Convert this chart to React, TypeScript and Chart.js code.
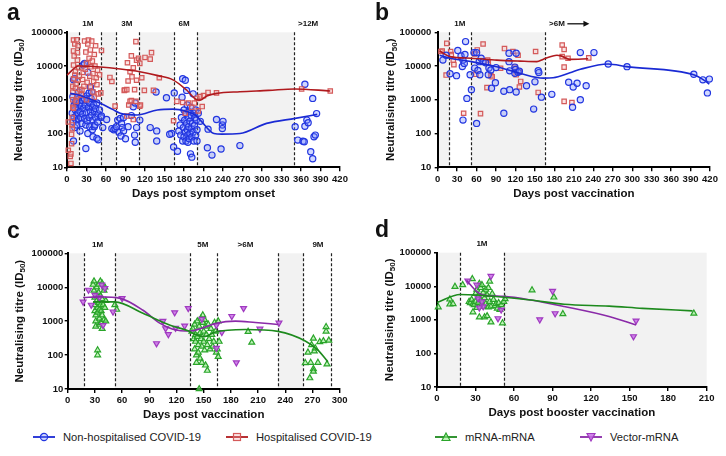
import React, { useEffect, useRef } from "react";
import { Chart, registerables } from "chart.js";
Chart.register(...registerables);

type P = [number, number];
const FONT = "'Liberation Sans', Arial, Helvetica, sans-serif";
Chart.defaults.font.family = FONT;

const yTickValues = [10, 100, 1000, 10000, 100000];

// ---------- Panel a: days post symptom onset ----------
const nhA: P[] = [
  [8,400],[9,1230],[9,225],[10,60],[10,3900],[11,700],[11,300],[12,4300],[12,150],[13,500],[13,900],[14,250],[14,790],[15,350],[15,180],[16,1000],[16,600],[17,400],[18,270],[18,1700],[19,800],[20,450],[20,120],[21,300],[22,1380],[22,650],[23,200],[24,950],[24,380],[25,10700],[27,12000],[26,550],[27,280],[27,1100],[29,36],[28,700],[29,180],[30,420],[30,1300],[31,950],[31,240],[32,100],[32,6500],[33,600],[34,300],[34,1600],[35,800],[35,160],[36,2400],[36,450],[37,1100],[38,350],[38,1740],[39,600],[39,130],[40,80],[40,250],[41,700],[42,160],[42,450],[43,180],[44,300],[44,550],[46,72],[46,800],[47,220],[48,380],[48,65],[50,500],[52,300],[53,330],[55,150],
  [61,260],[69,140],[72,130],[74,140],[76,160],[78,250],[80,110],[82,280],[84,200],[85,150],[87,300],[87,120],[83,85],[90,70],[94,160],[99,340],[102,620],[105,800],[104,90],[107,150],[105,55],[112,250],[128,150],[138,120],[138,60],[137,1700],[153,1150],[161,100],[164,40],[165,1600],[158,95],
  [170,30],[172,120],[174,180],[175,90],[176,300],[177,1200],[178,4200],[178,60],[179,150],[180,500],[180,80],[181,250],[182,3800],[182,110],[183,60],[183,400],[184,1900],[184,200],[185,130],[185,700],[186,90],[186,55],[187,300],[187,160],[188,70],[188,450],[189,230],[189,100],[190,25],[190,600],[191,140],[191,350],[192,80],[192,20],[193,200],[194,1500],[194,110],[195,400],[195,60],[196,170],[197,300],[198,90],[198,500],[199,250],[200,130],[200,60],[202,400],[205,230],
  [216,38],[217,135],[223,23],[230,260],[237,35],[239,180],[239,140],[240,230],[266,44],
  [351,160],[355,64],[363,59],[365,57],[366,165],[366,2900],[369,250],[371,210],[375,29],[378,18],[378,1100],[380,80],[382,90],[384,390],
];
const hA: P[] = [
  [2,220],[2,32],[5,21],[6,13],[6,25],[7,50],[7,95],[8,140],[8,180],[8,300],[9,600],[9,1000],[9,1700],[9,2500],[10,4200],[10,560],[10,10700],[10,28000],[10,59000],[11,20000],[12,5400],[12,45000],[13,2200],[13,7000],[14,900],[14,3000],[15,60000],[15,1300],[16,15000],[16,25000],[17,40000],[17,3800],[18,9000],[19,5000],[20,2000],
  [22,1400],[23,2000],[24,4000],[25,6500],[26,2500],[27,55000],[28,8000],[29,26000],[30,1000],[30,12000],[31,3300],[32,45000],[33,59000],[34,17000],[35,5000],[36,2400],[36,30000],[37,9500],[38,55000],[39,14000],[40,1700],[40,6000],[41,3500],[42,22000],[42,1200],[43,10000],[44,40000],[45,4500],[46,2800],[47,7500],[48,1500],[50,5500],[52,1600],[53,29000],
  [66,4600],[69,3500],[74,650],
  [88,1900],[89,1950],[92,330],[92,2000],[93,12500],[94,3600],[95,700],[97,6800],[97,900],[99,20000],[99,950],[100,4800],[102,8900],[102,260],[104,2000],[106,53000],[106,900],[107,15000],[107,3800],[110,17000],[112,12000],[112,650],[113,700],[115,4500],[119,1900],[120,18000],[128,16000],[130,25000],[133,1900],[142,4500],
  [164,240],[169,900],[178,830],[182,400],[187,800],[192,600],[196,800],[200,1100],[202,470],[205,1240],[208,630],[210,1330],[217,1650],[230,1600],[361,2100],[405,1820],
];
const nhFitA: P[] = [[5,1550],[18,1380],[51,790],[70,520],[82,400],[108,355],[139,500],[163,530],[184,450],[197,355],[205,250],[226,100],[238,96],[266,100],[307,200],[351,282],[385,370]];
const hFitA: P[] = [[0,5400],[18,10000],[51,9400],[82,8200],[112,6800],[140,5200],[163,3900],[184,1950],[200,1000],[205,980],[215,1300],[230,1550],[266,1740],[310,1900],[350,2100],[405,1820]];

// ---------- Panel b: days post vaccination (convalescent) ----------
const nhB: P[] = [
  [8,15000],[13,21000],[19,5900],[29,5200],[31,29000],[36,20000],[39,15000],[38,9700],[41,12000],[42,22000],[43,53000],[39,250],[45,1100],[50,5500],[52,2000],[56,25000],[57,8700],[60,25000],[62,7400],[60,200],[64,13500],[65,5500],[67,17000],[70,13500],[74,12500],[78,5500],[79,8700],[82,7700],[83,2200],[89,3200],[90,9000],[102,400],[102,1800],[110,24000],[110,13500],[111,2000],[111,7200],[119,9300],[120,7900],[119,6100],[121,24000],[121,1700],[124,6500],[126,7000],[137,2600],[150,3400],[148,530],[155,7300],[156,6400],[160,1200],[176,1450],[202,3300],[209,2400],[208,600],[215,3100],[220,1000],[220,25000],[229,2600],[241,25000],[263,11500],[292,9600],[395,5700],[409,3900],[416,1600],[419,4100],
];
const hB: P[] = [
  [5,27000],[7,28000],[14,47000],[13,5400],[20,27000],[21,22000],[24,15000],[25,11000],[40,400],[57,23000],[59,5700],[61,30000],[66,390],[70,45000],[77,15000],[78,12500],[76,2300],[82,5200],[84,4800],[97,8600],[103,33000],[116,27000],[119,9300],[121,5500],[124,21000],[126,6600],[126,2400],[128,3500],[151,27000],[155,1650],[192,42000],[192,19000],[195,31000],[195,9300],[195,900],[201,17000],[207,830],[233,17500],
];
const nhFitB: P[] = [[3,21000],[19,17000],[52,13500],[91,9500],[127,6100],[163,4400],[178,4500],[204,6300],[220,8000],[263,11500],[291,9600],[396,5400],[410,3900],[419,2900]];
const hFitB: P[] = [[3,28000],[19,19000],[52,17000],[91,15000],[127,14000],[153,13500],[163,16000],[184,21000],[190,20000],[204,15800],[232,16500]];

// ---------- Panel c: days post vaccination (naive) ----------
const mmC: P[] = [
  [28,12000],[29,15000],[29,8000],[30,5000],[30,3000],[30,2000],[31,1500],[31,1000],[31,700],[32,10000],[32,6000],[32,4000],[33,2500],[33,1800],[33,140],[33,100],[34,12000],[34,7000],[34,3500],[35,2200],[35,1200],[35,800],[36,15000],[36,5500],[36,3000],[37,2000],[37,900],[38,13000],[38,4500],[38,1500],[38,600],[39,3000],[40,8000],[40,1100],[41,10000],[41,2500],[42,4000],[42,1000],[52,3000],[54,2200],
  [137,500],[138,600],[139,300],[140,800],[140,150],[141,400],[141,250],[142,100],[142,60],[143,1000],[143,350],[144,200],[144,120],[145,10],[145,700],[146,450],[146,80],[147,1200],[147,300],[148,180],[148,60],[149,1500],[149,900],[150,500],[150,250],[151,1100],[151,140],[152,700],[152,50],[153,400],[154,35],[154,200],[155,800],[156,300],[157,150],[158,600],[159,400],[160,180],[161,250],[162,900],[163,500],[164,120],[165,150],[166,90],[166,1000],[167,250],
  [199,490],[203,235],
  [262,59],[265,120],[268,60],[269,200],[271,310],[272,130],[273,160],[271,39],[271,33],[276,60],[267,21],[278,245],[282,260],[285,680],[285,500],[288,270],[286,54],
];
const vmC: P[] = [
  [17,3700],[23,8300],[26,3000],[30,5900],[35,5000],[37.5,11700],[41,9300],[39,760],[50,1900],[60,4700],[98,220],[105,1000],[108,610],[111,410],[118,1800],[119,630],[129,730],[133,2400],[148,1150],[164,760],[164,160],[170,470],[181,1400],[186,60],[194,2400],[212,590],[233,890],
];
const mmFitC: P[] = [[28,3700],[52,3700],[83,1700],[113,760],[135,490],[140,410],[151,350],[162,470],[196,570],[232,500],[262,260],[276,140],[287,63]];
const vmFitC: P[] = [[17,5000],[36,5200],[58,4700],[83,2100],[102,860],[116,580],[135,510],[148,620],[164,870],[185,1000],[207,910],[232,800]];

// ---------- Panel d: days post booster vaccination ----------
const mmD: P[] = [
  [1,2400],[10,4100],[10,2900],[12.5,3000],[14,9700],[20,11000],[27.5,16500],[28,1700],
  [25,3500],[26,3200],[27,4000],[28,3000],[29,2800],[30,6000],[30,3500],[31,8000],[31,2300],[32,3200],[32,5000],[33,12000],[33,1200],[34,4000],[34,9000],[35,11000],[35,3000],[36,2500],[36,6500],[37,1200],[37,4500],[38,8000],[38,3000],[39,1300],[39,5500],[40,2400],[40,9000],[41,14000],[41,3500],[42,850],[42,2500],[43,6000],[44,4000],[45,2600],[46,3000],[47,2200],[48,3200],[49,2000],[50,2800],[51,800],[52,3500],[53,4200],
  [74,7700],[91,4700],[98,1500],[200,1550],
];
const vmD: P[] = [[24,14500],[42,20000],[31,11000],[32,4300],[35,3500],[36,2500],[33,2300],[47.5,1100],[50,2000],[80,1020],[90,7200],[92,1550],[153,320],[155,940]];
const mmFitD: P[] = [[0,3300],[18,5700],[31,5500],[52,4700],[73,3900],[99,2900],[134,2570],[160,2200],[199,1850]];
const vmFitD: P[] = [[23,15000],[31,6900],[36,5500],[52,5000],[73,3900],[99,2500],[134,1260],[155,700]];

// ---------- period annotations ----------
const shadeA: P[] = [[0,18],[52,75],[111,164],[200,349]];
const dashA = [18,52,75,111,164,200,349];
const labelsA: [number, string][] = [[32,"1M"],[92,"3M"],[180,"6M"],[371,">12M"]];
const shadeB: P[] = [[0,18],[52,165]];
const dashB = [18,52,165];
const labelsB: [number, string][] = [[34,"1M"],[184,">6M"]];
const arrowB: P = [200,234];
const shadeC: P[] = [[0,18],[52,135],[232,260]];
const dashC = [18,52,135,165,232,260,290];
const labelsC: [number, string][] = [[33,"1M"],[149,"5M"],[196,">6M"],[276,"9M"]];
const shadeD: P[] = [[0,18],[52,210]];
const dashD = [18,52];
const labelsD: [number, string][] = [[35,"1M"]];

const COL = {
  blue: { edge: "#2236e0", fill: "rgba(120,140,255,0.35)", line: "#1a2ad4" },
  red: { edge: "#d45a5a", fill: "rgba(245,170,170,0.3)", line: "#b01a1e" },
  green: { edge: "#2aa52a", fill: "rgba(150,235,140,0.6)", line: "#1d8a1d" },
  purple: { edge: "#a03ac0", fill: "rgba(200,110,230,0.85)", line: "#8a2aa8" },
};

type Series = { data: P[]; kind: "scatter" | "line"; col: { edge: string; fill: string; line: string }; shape?: string; rotation?: number };

interface PanelCfg {
  letter: string; letterX: number; letterY: number;
  left: number; top: number; width: number; height: number;
  plot: [number, number, number, number];
  yTickPad: number; yTitleX: number; xTitleY: number;
  xMax: number; xStep: number; xTitle: string;
  shade: P[]; dashes: number[]; labels: [number, string][]; arrow?: P;
  series: Series[];
}

const panels: PanelCfg[] = [
  {
    letter: "a", letterX: 7, letterY: 20, left: 0, top: 0, width: 363, height: 215,
    plot: [67, 32.3, 340, 167.3], yTickPad: 1, yTitleX: 18.5, xTitleY: 193.5,
    xMax: 420, xStep: 30, xTitle: "Days post symptom onset",
    shade: shadeA, dashes: dashA, labels: labelsA,
    series: [
      { data: nhFitA, kind: "line", col: COL.blue },
      { data: hFitA, kind: "line", col: COL.red },
      { data: hA, kind: "scatter", col: COL.red, shape: "rect" },
      { data: nhA, kind: "scatter", col: COL.blue, shape: "circle" },
    ],
  },
  {
    letter: "b", letterX: 12, letterY: 20, left: 363, top: 0, width: 363, height: 215,
    plot: [74.7, 32.3, 347, 167.3], yTickPad: 3.4, yTitleX: 28.3, xTitleY: 193.5,
    xMax: 420, xStep: 30, xTitle: "Days post vaccination",
    shade: shadeB, dashes: dashB, labels: labelsB, arrow: arrowB,
    series: [
      { data: nhFitB, kind: "line", col: COL.blue },
      { data: hFitB, kind: "line", col: COL.red },
      { data: nhB, kind: "scatter", col: COL.blue, shape: "circle" },
      { data: hB, kind: "scatter", col: COL.red, shape: "rect" },
    ],
  },
  {
    letter: "c", letterX: 7, letterY: 23, left: 0, top: 215, width: 363, height: 210,
    plot: [67.7, 38.3, 339.7, 174], yTickPad: 1.4, yTitleX: 20, xTitleY: 200,
    xMax: 300, xStep: 30, xTitle: "Days post vaccination",
    shade: shadeC, dashes: dashC, labels: labelsC,
    series: [
      { data: mmFitC, kind: "line", col: COL.green },
      { data: vmFitC, kind: "line", col: COL.purple },
      { data: vmC, kind: "scatter", col: COL.purple, shape: "triangle", rotation: 180 },
      { data: mmC, kind: "scatter", col: COL.green, shape: "triangle" },
    ],
  },
  {
    letter: "d", letterX: 12, letterY: 22, left: 363, top: 215, width: 363, height: 210,
    plot: [74, 37.7, 343.7, 172], yTickPad: 2.7, yTitleX: 26.7, xTitleY: 198,
    xMax: 210, xStep: 30, xTitle: "Days post booster vaccination",
    shade: shadeD, dashes: dashD, labels: labelsD,
    series: [
      { data: mmFitD, kind: "line", col: COL.green },
      { data: vmFitD, kind: "line", col: COL.purple },
      { data: vmD, kind: "scatter", col: COL.purple, shape: "triangle", rotation: 180 },
      { data: mmD, kind: "scatter", col: COL.green, shape: "triangle" },
    ],
  },
];

function Panel({ cfg }: { cfg: PanelCfg }) {
  const ref = useRef<HTMLCanvasElement>(null);
  useEffect(() => {
    const canvas = ref.current!;
    const [L, T, R, B] = cfg.plot;
    const decor = {
      id: "decor",
      beforeDraw(chart: any) {
        const { ctx, chartArea: ca, scales } = chart;
        const x = scales.x;
        ctx.save();
        ctx.fillStyle = "#f2f2f2";
        for (const [a, b] of cfg.shade) {
          const x0 = x.getPixelForValue(a), x1 = x.getPixelForValue(b);
          ctx.fillRect(x0, ca.top, x1 - x0, ca.bottom - ca.top);
        }
        ctx.strokeStyle = "#222";
        ctx.lineWidth = 1.2;
        ctx.setLineDash([3, 2]);
        for (const d of cfg.dashes) {
          const px = Math.round(x.getPixelForValue(d)) + 0.5;
          ctx.beginPath();
          ctx.moveTo(px, ca.top);
          ctx.lineTo(px, ca.bottom);
          ctx.stroke();
        }
        ctx.setLineDash([]);
        ctx.restore();
      },
      afterDraw(chart: any) {
        const { ctx, chartArea: ca, scales } = chart;
        const x = scales.x;
        ctx.save();
        ctx.fillStyle = "#111";
        ctx.font = `bold 8px ${FONT}`;
        ctx.textAlign = "center";
        ctx.textBaseline = "middle";
        const ly = ca.top - 8.5;
        for (const [v, t] of cfg.labels) ctx.fillText(t, x.getPixelForValue(v), ly);
        if (cfg.arrow) {
          const x0 = x.getPixelForValue(cfg.arrow[0]);
          const x1 = x.getPixelForValue(cfg.arrow[1]);
          ctx.strokeStyle = "#111";
          ctx.lineWidth = 1.3;
          ctx.beginPath();
          ctx.moveTo(x0, ly);
          ctx.lineTo(x1 - 4, ly);
          ctx.stroke();
          ctx.beginPath();
          ctx.moveTo(x1, ly);
          ctx.lineTo(x1 - 6, ly - 3);
          ctx.lineTo(x1 - 6, ly + 3);
          ctx.closePath();
          ctx.fill();
        }
        ctx.font = `bold 23px ${FONT}`;
        ctx.textAlign = "left";
        ctx.textBaseline = "alphabetic";
        ctx.fillText(cfg.letter, cfg.letterX, cfg.letterY);
        ctx.font = `bold 11.5px ${FONT}`;
        ctx.textAlign = "center";
        ctx.textBaseline = "middle";
        ctx.fillText(cfg.xTitle, (ca.left + ca.right) / 2, cfg.xTitleY);
        const main = "Neutralising titre (ID";
        const sub = "50";
        const close = ")";
        ctx.translate(cfg.yTitleX, (ca.top + ca.bottom) / 2);
        ctx.rotate(-Math.PI / 2);
        ctx.font = `bold 11.5px ${FONT}`;
        const w1 = ctx.measureText(main).width;
        const w3 = ctx.measureText(close).width;
        ctx.font = `bold 8px ${FONT}`;
        const w2 = ctx.measureText(sub).width;
        const total = w1 + w2 + w3;
        let sx = -total / 2;
        ctx.textAlign = "left";
        ctx.font = `bold 11.5px ${FONT}`;
        ctx.fillText(main, sx, 0);
        sx += w1;
        ctx.font = `bold 8px ${FONT}`;
        ctx.fillText(sub, sx, 3);
        sx += w2;
        ctx.font = `bold 11.5px ${FONT}`;
        ctx.fillText(close, sx, 0);
        ctx.restore();
      },
    };
    const datasets: any[] = cfg.series.map((s) =>
      s.kind === "line"
        ? {
            type: "line",
            data: s.data.map(([x, y]) => ({ x, y })),
            borderColor: s.col.line,
            borderWidth: 1.6,
            pointRadius: 0,
            cubicInterpolationMode: "monotone",
            fill: false,
            clip: false,
          }
        : {
            type: "scatter",
            data: s.data.map(([x, y]) => ({ x, y })),
            pointStyle: s.shape,
            rotation: s.rotation || 0,
            pointRadius: s.shape === "triangle" ? 3.4 : 3.1,
            borderWidth: 1.2,
            borderColor: s.col.edge,
            backgroundColor: s.col.fill,
            clip: false,
          }
    );
    const axisGrid = (len: number) => ({
      display: true,
      drawOnChartArea: false,
      drawTicks: true,
      tickLength: len,
      color: "#000",
      lineWidth: 1.4,
    });
    const chart = new Chart(canvas, {
      type: "scatter",
      data: { datasets },
      options: {
        responsive: false,
        animation: false,
        devicePixelRatio: 1,
        layout: { padding: { left: 0, top: T, right: cfg.width - R, bottom: 0 } },
        plugins: { legend: { display: false }, tooltip: { enabled: false } },
        scales: {
          x: {
            type: "linear",
            min: 0,
            max: cfg.xMax,
            offset: false,
            afterFit: (s: any) => { s.height = cfg.height - B; },
            ticks: {
              stepSize: cfg.xStep,
              autoSkip: false,
              maxRotation: 0,
              color: "#111",
              font: { size: 9.5, weight: "bold" },
              padding: 2,
              callback: (v: any) => String(v),
            },
            grid: axisGrid(4),
            border: { display: true, color: "#000", width: 2 },
          },
          y: {
            type: "logarithmic",
            min: 10,
            max: 100000,
            afterFit: (s: any) => { s.width = L; },
            afterBuildTicks: (s: any) => { s.ticks = yTickValues.map((v) => ({ value: v })); },
            ticks: {
              autoSkip: false,
              color: "#111",
              font: { size: 9.5, weight: "bold" },
              padding: cfg.yTickPad,
              callback: (v: any) => String(v),
            },
            grid: axisGrid(3),
            border: { display: true, color: "#000", width: 2 },
          },
        },
      } as any,
      plugins: [decor as any],
    });
    return () => chart.destroy();
  }, []);
  return (
    <canvas
      ref={ref}
      width={cfg.width}
      height={cfg.height}
      style={{ position: "absolute", left: cfg.left, top: cfg.top, width: cfg.width, height: cfg.height }}
    />
  );
}

const legendItems = [
  { label: "Non-hospitalised COVID-19", col: COL.blue, shape: "circle", x: 33 },
  { label: "Hospitalised COVID-19", col: COL.red, shape: "rect", x: 226 },
  { label: "mRNA-mRNA", col: COL.green, shape: "triangle", x: 435 },
  { label: "Vector-mRNA", col: COL.purple, shape: "invtriangle", x: 580 },
];

function Marker({ col, shape }: { col: { edge: string; fill: string; line: string }; shape: string }) {
  let m: any = null;
  if (shape === "circle") m = <circle cx={11} cy={7} r={3.6} fill={col.fill} stroke={col.edge} strokeWidth={1.2} />;
  else if (shape === "rect") m = <rect x={7.5} y={3.5} width={7} height={7} fill={col.fill} stroke={col.edge} strokeWidth={1.2} />;
  else if (shape === "triangle") m = <polygon points="11,3 15,10.5 7,10.5" fill={col.fill} stroke={col.edge} strokeWidth={1.2} />;
  else m = <polygon points="11,11 15,3.5 7,3.5" fill={col.fill} stroke={col.edge} strokeWidth={1.2} />;
  return (
    <svg width={22} height={14} style={{ display: "block" }}>
      <line x1={0} y1={7} x2={22} y2={7} stroke={col.line} strokeWidth={1.8} />
      {m}
    </svg>
  );
}

export default function App() {
  return (
    <div style={{ position: "absolute", left: 0, top: 0, width: 726, height: 456, overflow: "hidden", background: "#fff" }}>
      {panels.map((p) => (
        <Panel key={p.letter} cfg={p} />
      ))}
      {legendItems.map((it) => (
        <div
          key={it.label}
          style={{
            position: "absolute",
            left: it.x,
            top: 430,
            display: "flex",
            alignItems: "center",
            gap: 8,
            fontFamily: FONT,
            fontSize: 11.2,
            color: "#222",
            whiteSpace: "nowrap",
          }}
        >
          <Marker col={it.col} shape={it.shape} />
          <span>{it.label}</span>
        </div>
      ))}
    </div>
  );
}
